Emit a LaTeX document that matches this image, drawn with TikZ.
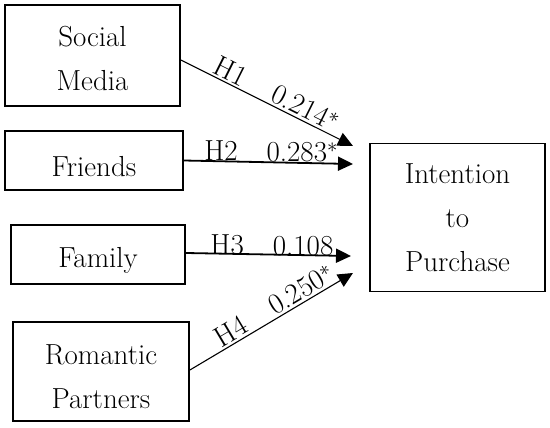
\documentclass[tikz,border=0pt]{standalone}
\usepackage{amsmath}
\usepackage{tikz}
\usetikzlibrary{arrows.meta}
\usetikzlibrary{positioning}

\tikzset{
    factor/.style={draw, line width=1.8pt, align=center, inner sep=0pt,
        font=\fontsize{29}{44}\selectfont},
    path/.style={-{Triangle[length=15pt, width=14pt]}},
    coef/.style={font=\fontsize{29}{32}\selectfont, inner sep=2pt}
}

\begin{document}
\begin{tikzpicture}[x=1pt, y=-1pt]
    \useasboundingbox (0,0) rectangle (550,428);

    \node[factor, minimum width=175pt, minimum height=101pt] (social) at (92.5,55.5) {\rule{0pt}{27pt}Social\\Media};
    \node[factor, minimum width=178pt, minimum height=59pt, text height=31pt, text depth=0pt] (friends) at (94,160.5) {Friends};
    \node[factor, minimum width=174pt, minimum height=59pt, text height=33pt, text depth=6pt] (family) at (98,254.5) {Family};
    \node[factor, minimum width=176pt, minimum height=99pt] (romantic) at (101,371.5) {\rule{0pt}{31pt}Romantic\\Partners};

    \node[factor, minimum width=175pt, minimum height=148pt] (intention) at (457.5,217.5) {Intention\\to\\Purchase};

    \coordinate (t1) at (353,146);
    \coordinate (t2) at (353,164);
    \coordinate (t3) at (351,256);
    \coordinate (t4) at (353,273);

    \draw[path, line width=1.1pt] (social.east |- 0,60) -- node[coef, above, sloped, pos=.26]{H1} node[coef, above, sloped, pos=.69]{0.214$^*$} (t1);

    \draw[path, line width=1.8pt] (friends.east) -- node[coef, above, inner sep=0pt, pos=.22]{H2} node[coef, above, inner sep=0pt, pos=.70]{0.283$^*$} (t2);

    \draw[path, line width=1.8pt] (family.east |- 0,253) -- node[coef, above, inner sep=0pt, yshift=-2pt, pos=.25]{H3} node[coef, above, inner sep=0pt, yshift=-2pt, pos=.71]{0.108} (t3);

    \draw[path, line width=1.1pt] (romantic.east |- 0,370) -- node[coef, above, sloped, pos=.29]{H4} node[coef, above, sloped, pos=.72]{0.250$^*$} (t4);

\end{tikzpicture}
\end{document}
